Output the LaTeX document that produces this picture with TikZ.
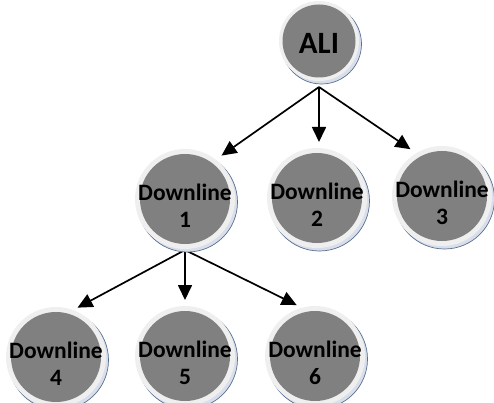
\documentclass[tikz,border=0pt]{standalone}
\usepackage{fontspec}
\setmainfont{Carlito}
\usetikzlibrary{arrows.meta,shadows,calc,backgrounds}
\definecolor{ringc}{HTML}{EFEFEF}
\definecolor{corec}{HTML}{808080}
\definecolor{shadf}{HTML}{D8DFEA}
\definecolor{shadl}{HTML}{5A6F92}
\tikzset{
  ballbase/.style={circle, inner sep=0pt, outer sep=0pt, fill=ringc,
    drop shadow={shadow xshift=2.5pt, shadow yshift=-3pt, fill=shadf, draw=shadl, line width=0.7pt, opacity=1}},
  bigball/.style={ballbase, minimum size=100pt,
    path picture={\fill[corec] (path picture bounding box.center) circle[radius=45pt];}},
  aliball/.style={ballbase, minimum size=80pt,
    path picture={\fill[corec] (path picture bounding box.center) circle[radius=36.5pt];}},
  dtext/.style={align=center, inner sep=0pt, yshift=-7pt, font=\bfseries\fontsize{23.5}{27}\selectfont},
  alitext/.style={inner sep=0pt, yshift=-2pt, font=\bfseries\fontsize{31}{34}\selectfont},
  arr/.style={-{Triangle[length=15pt,width=14pt]}, line width=1.7pt},
}
\begin{document}
\begin{tikzpicture}[x=1pt,y=-1pt]
\useasboundingbox (0,0) rectangle (494,403);
\node[aliball, label={[alitext]center:ALI}] (ali) at (319,41) {};
\node[bigball, label={[dtext]center:{Downline\\1}}] (d1) at (185,199) {};
\node[bigball, label={[dtext]center:{Downline\\2}}] (d2) at (317,198) {};
\node[bigball, label={[dtext]center:{Downline\\3}}] (d3) at (442,196) {};
\node[bigball, label={[dtext]center:{Downline\\4}}] (d4) at (56,357) {};
\node[bigball, label={[dtext]center:{Downline\\5}}] (d5) at (185,356) {};
\node[bigball, label={[dtext]center:{Downline\\6}}] (d6) at (315,356) {};
\coordinate (alib) at ($(ali.south)+(0,6)$);
\coordinate (d1b) at ($(d1.south)+(0,1)$);
\begin{pgfonlayer}{background}
\draw[arr, shorten >=7pt] (alib) -- (d1.52);
\draw[arr, shorten >=6pt] (alib) -- (alib |- d2.north);
\draw[arr, shorten >=7pt] (alib) -- (d3.121);
\draw[arr, shorten >=5pt] (d1b) -- (d4.70);
\draw[arr, shorten >=6pt] (d1b) -- (d1b |- d5.north);
\draw[arr, shorten >=6pt] (d1b) -- (d6.105);
\end{pgfonlayer}
\end{tikzpicture}
\end{document}
